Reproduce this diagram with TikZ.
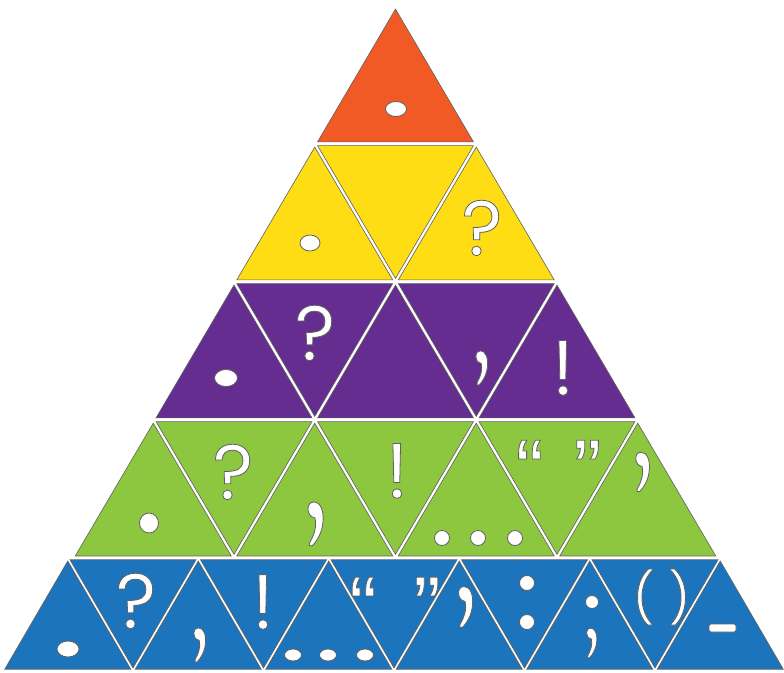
\documentclass[tikz,border=0pt]{standalone}
\usepackage{fontspec}
\setmainfont{Liberation Sans}
\newfontfamily\marksfont{Poppins}
\newfontfamily\quotefont{Liberation Sans}
\usetikzlibrary{calc}

\definecolor{tipcol}{RGB}{241,90,36}
\definecolor{sunny}{RGB}{255,221,21}
\definecolor{grape}{RGB}{102,45,145}
\definecolor{leaf}{RGB}{141,198,63}
\definecolor{sea}{RGB}{28,117,188}
\definecolor{rim}{RGB}{96,96,96}

% white glyph with a thin grey outline
\newcommand{\outlined}[1]{\special{pdf:literal direct 2 Tr 0.376 0.376 0.376 RG 0.8 w}#1\special{pdf:literal direct 0 Tr}}

\newcommand{\pieceinset}{0.966}
% colour, left x, top y, side, height
\newcommand{\uppiece}[5]{%
  \coordinate (g) at ({#2+#4/2},{#3+2*#5/3});
  \filldraw[piece,fill=#1] ($(g)!\pieceinset!({#2},{#3+#5})$) -- ($(g)!\pieceinset!({#2+#4},{#3+#5})$) -- ($(g)!\pieceinset!({#2+#4/2},{#3})$) -- cycle;}
\newcommand{\downpiece}[5]{%
  \coordinate (g) at ({#2+#4/2},{#3+#5/3});
  \filldraw[piece,fill=#1] ($(g)!\pieceinset!({#2},{#3})$) -- ($(g)!\pieceinset!({#2+#4},{#3})$) -- ($(g)!\pieceinset!({#2+#4/2},{#3+#5})$) -- cycle;}

\tikzset{
  bigcomma/.pic={
    \filldraw[symb] (-2,-22) .. controls (5,-22) and (8,-12) .. (7,-2)
      .. controls (6,9) and (1,17) .. (-4,22)
      .. controls (-6,23) and (-8,21) .. (-6,18)
      .. controls (-2,11) and (1,3) .. (-1,-6)
      .. controls (-6,-7) and (-8,-11) .. (-8,-15)
      .. controls (-8,-19) and (-6,-22) .. (-2,-22) -- cycle;
  }
}

\begin{document}
\begin{tikzpicture}[x=1pt,y=-1pt,
    piece/.style={draw=rim, line width=0.6pt},
    symb/.style={fill=white, draw=rim, line width=0.8pt},
    glyph/.style={text=white, inner sep=0pt, font={\marksfont\fontsize{78}{80}\selectfont}},
    quotes/.style={glyph, anchor=north, font={\quotefont\fontsize{84}{84}\selectfont}}
]
\useasboundingbox (0,0) rectangle (784,672);

% rows of pieces
\foreach \r/\col in {1/tipcol,2/sunny,3/grape,4/leaf}{
  \pgfmathsetmacro\rowy{6+138*(\r-1)}
  \pgfmathsetmacro\rowx{395.5-80.75*\r}
  \foreach \i in {1,...,\r}{\uppiece{\col}{\rowx+161.5*(\i-1)}{\rowy}{161.5}{137.5}}
  \ifnum\r>1
    \foreach \i in {2,...,\r}{\downpiece{\col}{\rowx+161.5*(\i-1)-80.75}{\rowy}{161.5}{137.5}}
  \fi
}
\foreach \i in {0,...,5}{\uppiece{sea}{2.5+130.5*\i}{558.5}{130.5}{112}}
\foreach \i in {0,...,4}{\downpiece{sea}{67.75+130.5*\i}{558.5}{130.5}{112}}

% row 1
\filldraw[symb] (396,109) ellipse [x radius=10.5pt, y radius=7.5pt];

% row 2
\filldraw[symb] (310,243) ellipse [x radius=10pt, y radius=8pt];
\node[glyph] (q2) at (482,228) {\outlined{?}};

% row 3
\filldraw[symb] (226,378) ellipse [x radius=11.5pt, y radius=8.5pt];
\node[glyph] (q3) at (315,333) {\outlined{?}};
\pic[scale=0.78] at (482,368) {bigcomma};
\node[glyph] (e3) at (563,368) {\outlined{!}};

% row 4
\filldraw[symb] (149,523) ellipse [x radius=9.5pt, y radius=10pt];
\node[glyph] (q4) at (233,472) {\outlined{?}};
\pic at (316,524) {bigcomma};
\node[glyph] (e4) at (397,471) {\outlined{!}};
\foreach \x in {442,478,515}
  \filldraw[symb] (\x,538) circle [radius=7.5pt];
\node[quotes] (qq4) at (558.5,440) {\outlined{“\hspace{30pt}”}};
\pic[scale=0.9] at (643,472) {bigcomma};

% row 5
\filldraw[symb] (68,649) ellipse [x radius=11pt, y radius=8pt];
\node[glyph] (q5) at (136,601) {\outlined{?}};
\pic[scale=0.78] at (200,645) {bigcomma};
\node[glyph] (e5) at (263,602) {\outlined{!}};
\foreach \x in {293,328,365}
  \filldraw[symb] (\x,655) ellipse [x radius=8.5pt, y radius=6pt];
\node[quotes] (qq5) at (395,577) {\outlined{“\hspace{36pt}”}};
\pic[scale=0.93] at (466,607) {bigcomma};
\filldraw[symb] (527,583) circle [radius=7.5pt];
\filldraw[symb] (527,622) circle [radius=7.5pt];
\filldraw[symb] (592,602) circle [radius=6.5pt];
\pic[scale=0.68] at (592,643) {bigcomma};
\node[glyph, font={\marksfont\fontsize{50}{52}\selectfont}] (pp5) at (661.5,597) {\outlined{( )}};
\filldraw[symb, rounded corners=2pt] (709,624) rectangle (736,632);
\end{tikzpicture}
\end{document}
